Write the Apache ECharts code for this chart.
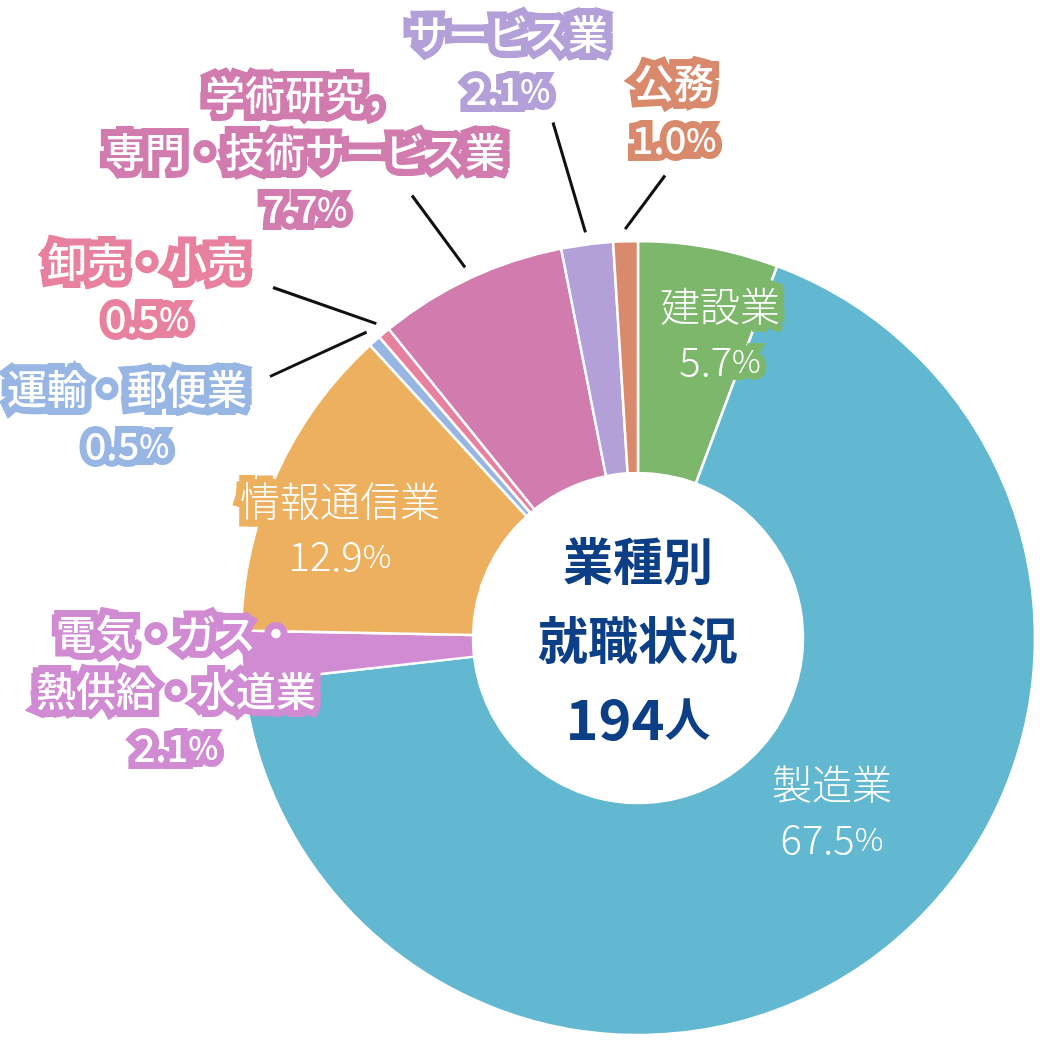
<!DOCTYPE html>
<html><head><meta charset="utf-8">
<script src="https://cdn.jsdelivr.net/npm/echarts@6/dist/echarts.min.js"></script>
<style>html,body{margin:0;padding:0;background:#fff}#c{width:1040px;height:1040px}</style>
</head><body><div id="c"></div>
<script>
// ---- data ----
const categories = ['建設業','製造業','電気・ガス・\n熱供給・水道業','情報通信業','運輸・郵便業','卸売・小売','学術研究，\n専門・技術サービス業','サービス業','公務'];
const shares = [5.7, 67.5, 2.1, 12.9, 0.5, 0.5, 7.7, 2.1, 1.0];
const centerLines = ['業種別', '就職状況'];
const totalPeople = 194;
const peopleUnit = '人';

// ---- styles / layout ----
const colors = ['#7db76b','#63b8d1','#d08bd3','#edb05f','#98b6e4','#e7819f','#d17bae','#b4a0d8','#d98a6d'];
const insideLabel = [true, true, false, true, false, false, false, false, false];
const labelPos = [[720,333],[832,811],[176,691],[340,528],[127,417],[147,290],[305,152],[508,62],[674,111]];
const lineEnd = [null,null,null,null,[270,377],[273,287],[412,195],[553,122],[665,175]];
const CX = 638, CY = 638, R_IN = 165, R_OUT = 397;
const FONT = '"Noto Sans CJK JP", "Noto Sans", sans-serif';
const NAVY = '#0d3f87';

function labelText(p) {
  const i = p.dataIndex;
  const names = categories[i].split('\n').map(s => '{n|' + s + '}').join('\n');
  return names + '\n{v|' + shares[i].toFixed(1) + '}{p|%}';
}
function richFor(inside) {
  const w = inside ? 300 : 500;
  const lh = inside ? 55 : 57;
  return {
    n: {fontSize: 40, fontWeight: w, lineHeight: lh, fontFamily: FONT},
    v: {fontSize: inside ? 40 : 38, fontWeight: w, lineHeight: lh, fontFamily: FONT},
    p: {fontSize: 32, fontWeight: w, lineHeight: lh, fontFamily: FONT}
  };
}
function placeLabel(p) {
  const pos = labelPos[p.dataIndex];
  return {x: pos[0], y: pos[1], align: 'center', verticalAlign: 'middle'};
}

// halo layer: visible slices + coloured outlined text
const haloData = categories.map((c, i) => ({
  name: c, value: shares[i],
  itemStyle: {color: colors[i]},
  label: {show: true, color: colors[i], textBorderColor: colors[i], textBorderWidth: 14, rich: richFor(insideLabel[i])}
}));
// top layer: white text only
const textData = categories.map((c, i) => ({
  name: c, value: shares[i],
  label: {show: true, color: '#fff', textBorderWidth: 0, rich: richFor(insideLabel[i])}
}));
// guide lines layer
const guideData = categories.map((c, i) => ({
  name: c, value: shares[i],
  label: {show: !!lineEnd[i]},
  labelLine: {show: !!lineEnd[i]}
}));

const common = {
  type: 'pie', silent: true, center: [CX, CY], startAngle: 90, clockwise: true,
  avoidLabelOverlap: false, emphasis: {disabled: true}
};

const chart = echarts.init(document.getElementById('c'), null, {renderer: 'canvas'});
chart.setOption({
  animation: false,
  backgroundColor: '#fff',
  series: [
    Object.assign({}, common, {
      radius: [R_IN, R_OUT + 12],
      itemStyle: {color: 'rgba(0,0,0,0)', borderWidth: 0},
      label: {position: 'outside', formatter: '.', fontSize: 1, color: 'rgba(0,0,0,0)'},
      labelLine: {length: 5, length2: 0, smooth: false, lineStyle: {color: '#111', width: 3}},
      labelLayout: function (p) {
        const e = lineEnd[p.dataIndex];
        if (!e) return {};
        return {x: e[0], y: e[1], align: 'center', verticalAlign: 'middle'};
      },
      data: guideData,
      z: 1
    }),
    Object.assign({}, common, {
      radius: [R_IN, R_OUT],
      itemStyle: {borderColor: '#fff', borderWidth: 2.5},
      label: {show: true, position: 'outside', formatter: labelText, align: 'center'},
      labelLine: {show: false},
      labelLayout: placeLabel,
      data: haloData,
      z: 2
    }),
    Object.assign({}, common, {
      radius: [R_IN, R_OUT],
      itemStyle: {color: 'rgba(0,0,0,0)', borderWidth: 0},
      label: {show: true, position: 'outside', formatter: labelText, align: 'center'},
      labelLine: {show: false},
      labelLayout: placeLabel,
      data: textData,
      z: 3
    })
  ],
  graphic: [{
    type: 'text',
    x: CX, y: CY + 2,
    z: 100,
    style: {
      text: centerLines.map(s => '{a|' + s + '}').join('\n') + '\n{b|' + totalPeople + '}{c|' + peopleUnit + '}',
      align: 'center',
      verticalAlign: 'middle',
      fill: NAVY,
      rich: {
        a: {fontSize: 50, fontWeight: 'bold', fill: NAVY, lineHeight: 79, fontFamily: FONT},
        b: {fontSize: 56, fontWeight: 'bold', fill: NAVY, lineHeight: 79, fontFamily: FONT},
        c: {fontSize: 46, fontWeight: 'bold', fill: NAVY, lineHeight: 79, fontFamily: FONT}
      }
    }
  }]
});
</script></body></html>
